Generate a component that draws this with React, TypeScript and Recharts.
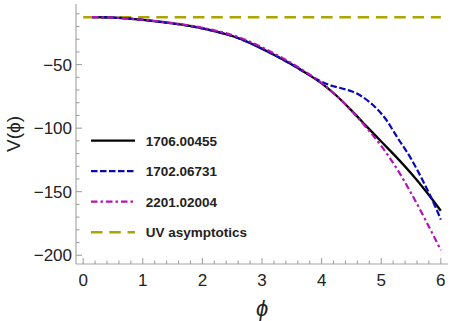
import { LineChart, Line, XAxis, YAxis, Legend } from "recharts";

// phi values and V(phi)
const xBlack = [0.15, 0.5, 1.0, 1.5, 2.0, 2.25, 2.5, 2.75, 3.0, 3.25, 3.5, 3.75, 4.0, 4.25, 4.5, 4.75, 5.0, 5.25, 5.5, 5.75, 6.0];
const vBlack = [-12.6, -13.0, -14.8, -17.6, -21.5, -24.2, -27.5, -32.0, -37.5, -43.5, -50.0, -57.0, -64.8, -74.5, -86.0, -98.4, -110.5, -122.6, -135.5, -149.6, -165.0];

const xBlue = [0.15, 0.5, 1.0, 1.5, 2.0, 2.25, 2.5, 2.75, 3.0, 3.25, 3.5, 3.75, 3.9, 4.0, 4.1, 4.2, 4.3, 4.4, 4.5, 4.6, 4.7, 4.8, 4.9, 5.0, 5.1, 5.2, 5.3, 5.4, 5.5, 5.6, 5.7, 5.8, 5.9, 6.0];
const vBlue = [-12.6, -13.0, -14.8, -17.6, -21.5, -24.2, -27.5, -32.0, -37.5, -43.5, -50.0, -57.0, -61.0, -63.5, -65.5, -67.0, -68.2, -69.5, -71.0, -73.0, -75.8, -79.3, -83.5, -88.5, -94.5, -102.0, -109.5, -116.5, -124.0, -132.5, -141.5, -151.0, -161.0, -172.0];

const xMagenta = [0.15, 0.5, 1.0, 1.5, 2.0, 2.25, 2.5, 2.75, 3.0, 3.25, 3.5, 3.75, 4.0, 4.25, 4.5, 4.75, 5.0, 5.25, 5.5, 5.75, 6.0];
const vMagenta = [-12.6, -13.0, -14.7, -17.3, -21.0, -23.6, -26.7, -31.0, -36.4, -42.4, -49.0, -56.3, -64.5, -74.5, -86.3, -99.5, -114.0, -131.0, -151.0, -173.0, -196.0];

const xUV = [0, 6];
const vUV = [-12.7, -12.7];

const seriesNames = ["1706.00455", "1702.06731", "2201.02004", "UV asymptotics"];

const xTicks = [0, 0.2, 0.4, 0.6, 0.8, 1, 1.2, 1.4, 1.6, 1.8, 2, 2.2, 2.4, 2.6, 2.8, 3, 3.2, 3.4, 3.6, 3.8, 4, 4.2, 4.4, 4.6, 4.8, 5, 5.2, 5.4, 5.6, 5.8, 6];
const yTicks = [-200, -190, -180, -170, -160, -150, -140, -130, -120, -110, -100, -90, -80, -70, -60, -50, -40, -30, -20, -10];

const toPoints = (xs: number[], ys: number[]) => xs.map((x, i) => ({ x, y: ys[i] }));

const frameColor = "#a8a8a8";
const tickColor = "#999";
const font = "'Liberation Sans', Arial, sans-serif";

const isMajorX = (v: number) => Math.abs(v - Math.round(v)) < 1e-6;
const isMajorY = (v: number) => v % 50 === 0;

const BottomTick = (p: any) => {
  const v = p.payload.value;
  const major = isMajorX(v);
  return (
    <g>
      <line x1={p.x} x2={p.x} y1={p.y} y2={p.y - (major ? 6 : 3.5)} stroke={tickColor} />
      {major && (
        <text x={p.x} y={p.y + 22} textAnchor="middle" fontSize={17} fontFamily={font} fill="#222">
          {Math.round(v)}
        </text>
      )}
    </g>
  );
};

const TopTick = (p: any) => {
  const major = isMajorX(p.payload.value);
  return <line x1={p.x} x2={p.x} y1={p.y} y2={p.y + (major ? 6 : 3.5)} stroke={tickColor} />;
};

const LeftTick = (p: any) => {
  const v = p.payload.value;
  const major = isMajorY(v);
  return (
    <g>
      <line x1={p.x} x2={p.x + (major ? 6 : 3.5)} y1={p.y} y2={p.y} stroke={tickColor} />
      {major && (
        <text x={p.x - 4} y={p.y} dy="0.36em" textAnchor="end" fontSize={17} fontFamily={font} fill="#222">
          {"\u2212" + Math.abs(v)}
        </text>
      )}
    </g>
  );
};

const RightTick = (p: any) => {
  const major = isMajorY(p.payload.value);
  return <line x1={p.x} x2={p.x - (major ? 6 : 3.5)} y1={p.y} y2={p.y} stroke={tickColor} />;
};

const YLabel = (p: any) => {
  const vb = p.viewBox;
  const cx = vb.x + 13.5;
  const cy = vb.y + vb.height / 2;
  return (
    <text x={cx} y={cy} dy="0.36em" transform={`rotate(-90 ${cx} ${cy})`} textAnchor="middle" fontSize={19} fontFamily={font} fill="#222">
      V(ϕ)
    </text>
  );
};

const XLabel = (p: any) => {
  const vb = p.viewBox;
  return (
    <text x={vb.x + vb.width / 2} y={vb.y + 44} dy="0.36em" textAnchor="middle" fontSize={22} fontStyle="italic" fontFamily={font} fill="#222">
      ϕ
    </text>
  );
};

const legendStyles = [
  { color: "#000000", dash: undefined as string | undefined, width: 2.3 },
  { color: "#0a0ab4", dash: "6.5 2.5", width: 2.2 },
  { color: "#b414b4", dash: "6.5 3 2.5 3", width: 2.2 },
  { color: "#aaa500", dash: "11.5 6.8", width: 2.6 },
];

const LegendBox = () => (
  <svg width={230} height={115}>
    {seriesNames.map((name, i) => {
      const y = 15.7 + 30.5 * i;
      const s = legendStyles[i];
      return (
        <g key={name}>
          <line x1={3} x2={47} y1={y} y2={y} stroke={s.color} strokeWidth={s.width} strokeDasharray={s.dash} />
          <text x={57.7} y={y} dy="0.36em" fontSize={13.5} fontWeight="bold" fontFamily={font} fill="#222">
            {name}
          </text>
        </g>
      );
    })}
  </svg>
);

export default function App() {
  return (
    <div style={{ position: "absolute", left: 0, top: 0, width: 454, height: 321, background: "#fff" }}>
      <LineChart width={454} height={321} margin={{ top: 4, right: 6, bottom: 0, left: 0 }}>
        <XAxis
          xAxisId="b"
          dataKey="x"
          type="number"
          domain={[-0.12, 6.12]}
          ticks={xTicks}
          interval={0}
          height={57}
          tickSize={0}
          tickMargin={0}
          tickLine={false}
          tick={<BottomTick />}
          axisLine={{ stroke: frameColor, strokeWidth: 1.2 }}
          allowDataOverflow
          label={<XLabel />}
        />
        <XAxis
          xAxisId="t"
          orientation="top"
          dataKey="x"
          type="number"
          domain={[-0.12, 6.12]}
          ticks={xTicks}
          interval={0}
          height={0}
          tickSize={0}
          tickMargin={0}
          tickLine={false}
          tick={<TopTick />}
          axisLine={{ stroke: frameColor, strokeWidth: 1.2 }}
          allowDataOverflow
        />
        <YAxis
          yAxisId="l"
          dataKey="y"
          type="number"
          domain={[-206.9, -2.3]}
          ticks={yTicks}
          interval={0}
          width={76}
          tickSize={0}
          tickMargin={0}
          tickLine={false}
          tick={<LeftTick />}
          axisLine={{ stroke: frameColor, strokeWidth: 1.2 }}
          allowDataOverflow
          label={<YLabel />}
        />
        <YAxis
          yAxisId="r"
          orientation="right"
          dataKey="y"
          type="number"
          domain={[-206.9, -2.3]}
          ticks={yTicks}
          interval={0}
          width={0}
          tickSize={0}
          tickMargin={0}
          tickLine={false}
          tick={<RightTick />}
          axisLine={{ stroke: frameColor, strokeWidth: 1.2 }}
          allowDataOverflow
        />
        <Line
          xAxisId="b"
          yAxisId="l"
          data={toPoints(xUV, vUV)}
          dataKey="y"
          type="linear"
          stroke="#aaa500"
          strokeWidth={2.6}
          strokeDasharray="11.5 6.8"
          dot={false}
          isAnimationActive={false}
        />
        <Line
          xAxisId="b"
          yAxisId="l"
          data={toPoints(xBlack, vBlack)}
          dataKey="y"
          type="monotone"
          stroke="#000"
          strokeWidth={2.3}
          dot={false}
          isAnimationActive={false}
        />
        <Line
          xAxisId="b"
          yAxisId="l"
          data={toPoints(xBlue, vBlue)}
          dataKey="y"
          type="monotone"
          stroke="#0a0ab4"
          strokeWidth={2.2}
          strokeDasharray="6.5 2.5"
          dot={false}
          isAnimationActive={false}
        />
        <Line
          xAxisId="b"
          yAxisId="l"
          data={toPoints(xMagenta, vMagenta)}
          dataKey="y"
          type="monotone"
          stroke="#b414b4"
          strokeWidth={2.2}
          strokeDasharray="6.5 3 2.5 3"
          dot={false}
          isAnimationActive={false}
        />
        <Legend
          layout="vertical"
          align="center"
          verticalAlign="middle"
          content={<LegendBox />}
          wrapperStyle={{ left: 88, top: 125, width: 230, height: 115 }}
        />
      </LineChart>
    </div>
  );
}
